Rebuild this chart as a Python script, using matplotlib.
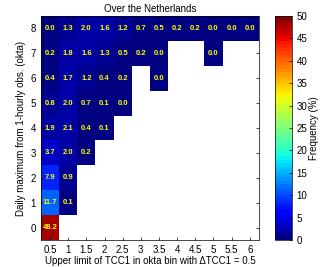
import numpy as np
import matplotlib
matplotlib.use('Agg')
import matplotlib.pyplot as plt

plt.rcParams['font.family'] = ['Liberation Sans', 'DejaVu Sans']

# TCC1 upper limits (x) and daily max okta (y)
tcc_bins = ['0.5', '1', '1.5', '2', '2.5', '3', '3.5', '4', '4.5', '5', '5.5', '6']
okta = [0, 1, 2, 3, 4, 5, 6, 7, 8]

# frequency (%) per row, starting at first column; None = empty cell
row0 = [48.2]
row1 = [11.7, 0.1]
row2 = [7.9, 0.9]
row3 = [3.7, 2.0, 0.2]
row4 = [1.9, 2.1, 0.4, 0.1]
row5 = [0.8, 2.0, 0.7, 0.1, 0.0]
row6 = [0.4, 1.7, 1.2, 0.4, 0.2, None, 0.0]
row7 = [0.2, 1.8, 1.6, 1.3, 0.5, 0.2, 0.0, None, None, 0.0]
row8 = [0.0, 1.3, 2.0, 1.6, 1.2, 0.7, 0.5, 0.2, 0.2, 0.0, 0.0, 0.0]
rows = [row0, row1, row2, row3, row4, row5, row6, row7, row8]

freq = np.full((len(okta), len(tcc_bins)), np.nan)
for i, r in enumerate(rows):
    for j, v in enumerate(r):
        if v is not None:
            freq[i, j] = v

fig = plt.figure(figsize=(3.2, 2.67), dpi=100)
ax = fig.add_axes([0.128, 0.101, 0.681, 0.839])
cax = fig.add_axes([0.859, 0.101, 0.053, 0.839])

cmap = plt.get_cmap('jet', 64)
xe = np.arange(len(tcc_bins) + 1) - 0.5
ye = np.arange(len(okta) + 1) - 0.5
mesh = ax.pcolormesh(xe, ye, np.ma.masked_invalid(freq), cmap=cmap, vmin=0, vmax=50)

for i in range(len(okta)):
    for j in range(len(tcc_bins)):
        if not np.isnan(freq[i, j]):
            ax.text(j, i, '%.1f' % freq[i, j], ha='center', va='center',
                    color='yellow', fontsize=5.5, fontweight='bold')

ax.set_xlim(-0.5, len(tcc_bins) - 0.5)
ax.set_ylim(-0.5, len(okta) - 0.5)
ax.set_xticks(range(len(tcc_bins)))
ax.set_xticklabels(tcc_bins)
ax.set_yticks(okta)
ax.tick_params(direction='in', length=2, labelsize=7, top=True, right=True, width=0.5)
for s in ax.spines.values():
    s.set_linewidth(0.5)
ax.set_xlabel('Upper limit of TCC1 in okta bin with \u0394TCC1 = 0.5', fontsize=7, labelpad=1)
ax.set_ylabel('Daily maximum from 1-hourly obs. (okta)', fontsize=7, labelpad=3)
ax.set_title('Over the Netherlands', fontsize=7, pad=3)

cb = fig.colorbar(mesh, cax=cax, ticks=range(0, 51, 5))
cb.ax.tick_params(labelsize=7, direction='in', length=2, width=0.5)
cb.outline.set_linewidth(0.5)
cb.set_label('Frequency (%)', fontsize=7, labelpad=1)

fig.savefig('out.png', dpi=100)
